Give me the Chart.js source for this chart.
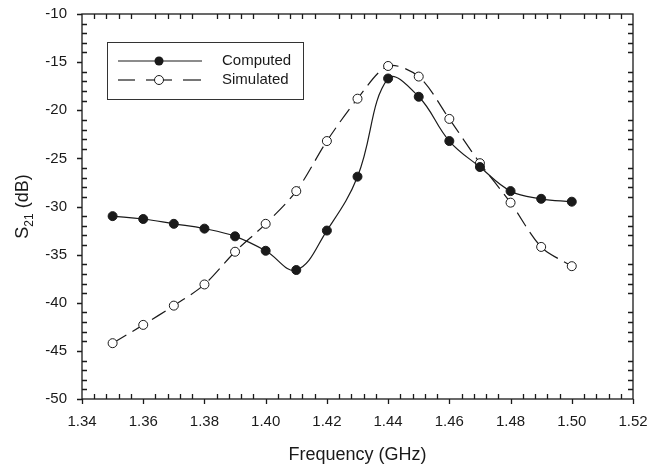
<!DOCTYPE html>
<html>
<head>
<meta charset="utf-8">
<script src="https://cdn.jsdelivr.net/npm/chart.js@4.4.0/dist/chart.umd.min.js"></script>
<style>
  html, body { margin: 0; padding: 0; background: #fff; }
  #wrap { width: 648px; height: 468px; }
</style>
</head>
<body>
<div id="wrap"><canvas id="s21Chart" width="648" height="468"></canvas></div>
<script>
// date
const freq = [1.35, 1.36, 1.37, 1.38, 1.39, 1.40, 1.41, 1.42, 1.43, 1.44, 1.45, 1.46, 1.47, 1.48, 1.49, 1.50];
const computed = [-31.0, -31.3, -31.8, -32.3, -33.1, -34.6, -36.6, -32.5, -26.9, -16.7, -18.6, -23.2, -25.9, -28.4, -29.2, -29.5];
const simulated = [-44.2, -42.3, -40.3, -38.1, -34.7, -31.8, -28.4, -23.2, -18.8, -15.4, -16.5, -20.9, -25.5, -29.6, -34.2, -36.2];
const xTicks = [1.34, 1.36, 1.38, 1.40, 1.42, 1.44, 1.46, 1.48, 1.50, 1.52];
const yTicks = [-50, -45, -40, -35, -30, -25, -20, -15, -10];
const legendLabels = ['Computed', 'Simulated'];

const FONT = '"Liberation Sans", Arial, sans-serif';
const INK = '#1a1a1a';

// axe cu tick-uri minore spre interior si majore spre exterior
const frameTicks = {
    id: 'frameTicks',
    afterDraw(chart) {
        const c = chart.ctx;
        const a = chart.chartArea;
        const xs = chart.scales.x, ys = chart.scales.y;
        c.save();
        c.strokeStyle = INK;
        c.lineWidth = 1.3;
        c.strokeRect(a.left, a.top, a.right - a.left, a.bottom - a.top);
        c.beginPath();
        // x
        for (let i = 0; i < xTicks.length; i++) {
            const px = Math.round(xs.getPixelForValue(xTicks[i])) + 0.5;
            c.moveTo(px, a.bottom); c.lineTo(px, a.bottom + 5);
            if (i < xTicks.length - 1) {
                const step = (xTicks[i + 1] - xTicks[i]) / 5;
                for (let k = 1; k < 5; k++) {
                    const mx = Math.round(xs.getPixelForValue(xTicks[i] + k * step)) + 0.5;
                    c.moveTo(mx, a.bottom); c.lineTo(mx, a.bottom - 5);
                    c.moveTo(mx, a.top); c.lineTo(mx, a.top + 5);
                }
            }
        }
        // y
        for (let i = 0; i < yTicks.length; i++) {
            const py = Math.round(ys.getPixelForValue(yTicks[i])) + 0.5;
            c.moveTo(a.left, py); c.lineTo(a.left - 5, py);
            if (i < yTicks.length - 1) {
                const step = (yTicks[i + 1] - yTicks[i]) / 5;
                for (let k = 1; k < 5; k++) {
                    const my = Math.round(ys.getPixelForValue(yTicks[i] + k * step)) + 0.5;
                    c.moveTo(a.left, my); c.lineTo(a.left + 5, my);
                    c.moveTo(a.right, my); c.lineTo(a.right - 5, my);
                }
            }
        }
        c.stroke();
        c.restore();
    }
};

// titlul axei y cu indice
const yTitle = {
    id: 'yTitle',
    afterDraw(chart) {
        const c = chart.ctx;
        const a = chart.chartArea;
        c.save();
        c.fillStyle = INK;
        c.textBaseline = 'alphabetic';
        const big = '18px ' + FONT, small = '12px ' + FONT;
        c.font = big; const wS = c.measureText('S').width;
        c.font = small; const w21 = c.measureText('21').width;
        c.font = big; const wRest = c.measureText(' (dB)').width;
        const total = wS + w21 + wRest;
        c.translate(28, (a.top + a.bottom) / 2);
        c.rotate(-Math.PI / 2);
        let x = -total / 2;
        c.font = big; c.fillText('S', x, 0); x += wS;
        c.font = small; c.fillText('21', x, 5); x += w21;
        c.font = big; c.fillText(' (dB)', x, 0);
        c.restore();
    }
};

// legenda in casuta
const boxLegend = {
    id: 'boxLegend',
    afterDraw(chart) {
        const c = chart.ctx;
        c.save();
        c.strokeStyle = '#333';
        c.lineWidth = 1;
        c.strokeRect(107.5, 42.5, 196, 57);
        c.strokeStyle = INK;
        c.lineWidth = 1.2;
        // Computed
        c.beginPath(); c.moveTo(118, 61); c.lineTo(202, 61); c.stroke();
        c.beginPath(); c.arc(159, 61, 4.5, 0, Math.PI * 2);
        c.fillStyle = INK; c.fill();
        // Simulated
        [[118, 135], [146, 155], [163, 172], [183, 201]].forEach(s => {
            c.beginPath(); c.moveTo(s[0], 80); c.lineTo(s[1], 80); c.stroke();
        });
        c.beginPath(); c.arc(159, 80, 4.5, 0, Math.PI * 2);
        c.fillStyle = '#fff'; c.fill(); c.lineWidth = 1; c.stroke();
        c.fillStyle = INK;
        c.font = '15px ' + FONT;
        c.textBaseline = 'middle';
        c.fillText(legendLabels[0], 222, 61);
        c.fillText(legendLabels[1], 222, 80);
        c.restore();
    }
};

document.addEventListener('DOMContentLoaded', function() {
    const ctx = document.getElementById('s21Chart').getContext('2d');
    new Chart(ctx, {
        type: 'line',
        data: {
            datasets: [{
                label: legendLabels[0],
                data: freq.map((f, i) => ({ x: f, y: computed[i] })),
                borderColor: INK,
                borderWidth: 1.2,
                tension: 0.4,
                pointRadius: 4.5,
                pointBackgroundColor: INK,
                pointBorderColor: INK,
                pointBorderWidth: 1
            }, {
                label: legendLabels[1],
                data: freq.map((f, i) => ({ x: f, y: simulated[i] })),
                borderColor: INK,
                borderWidth: 1.2,
                borderDash: [16, 7],
                tension: 0.3,
                pointRadius: 4.5,
                pointBackgroundColor: '#fff',
                pointBorderColor: INK,
                pointBorderWidth: 1
            }]
        },
        options: {
            responsive: false,
            animation: false,
            layout: { padding: { top: 14, right: 15, left: 0, bottom: 0 } },
            plugins: {
                legend: { display: false },
                tooltip: { enabled: false }
            },
            scales: {
                x: {
                    type: 'linear',
                    min: 1.34,
                    max: 1.52,
                    afterBuildTicks: s => { s.ticks = xTicks.map(v => ({ value: v })); },
                    afterFit: s => { s.height = 69; s.paddingLeft = 0; s.paddingRight = 0; },
                    grid: { display: false, drawTicks: false },
                    border: { display: false },
                    ticks: {
                        color: INK,
                        padding: 14,
                        maxRotation: 0,
                        font: { family: FONT, size: 15 },
                        callback: v => v.toFixed(2)
                    },
                    title: {
                        display: true,
                        text: 'Frequency (GHz)',
                        color: INK,
                        font: { family: FONT, size: 18 },
                        padding: { top: 0, bottom: 2 }
                    }
                },
                y: {
                    min: -50,
                    max: -10,
                    afterBuildTicks: s => { s.ticks = yTicks.map(v => ({ value: v })); },
                    afterFit: s => { s.width = 82; s.paddingTop = 0; s.paddingBottom = 0; },
                    grid: { display: false, drawTicks: false },
                    border: { display: false },
                    ticks: {
                        color: INK,
                        padding: 15,
                        font: { family: FONT, size: 15 }
                    }
                }
            }
        },
        plugins: [frameTicks, yTitle, boxLegend]
    });
});
</script>
</body>
</html>
